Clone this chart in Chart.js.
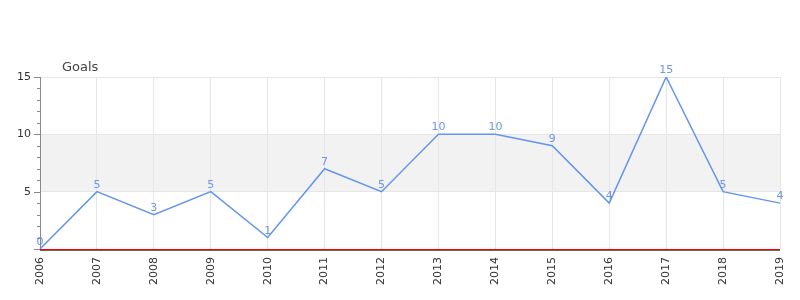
<!DOCTYPE html>
<html>
<head>
<meta charset="utf-8">
<script src="https://cdn.jsdelivr.net/npm/chart.js@4/dist/chart.umd.min.js"></script>
<style>
html,body{margin:0;padding:0;background:#fff;}
#wrap{width:800px;height:300px;position:relative;}
</style>
</head>
<body>
<div id="wrap"><canvas id="c" width="800" height="300"></canvas></div>
<script>
const years = ['2006','2007','2008','2009','2010','2011','2012','2013','2014','2015','2016','2017','2018','2019'];
const goals = [0,5,3,5,1,7,5,10,10,9,4,15,5,4];
const yTitle = 'Goals';
const bandRange = [5,10];

const FONT = "'DejaVu Sans', sans-serif";

const bandPlugin = {
  id: 'band',
  beforeDraw(chart) {
    const {ctx, chartArea, scales} = chart;
    const y1 = scales.y.getPixelForValue(bandRange[1]);
    const y0 = scales.y.getPixelForValue(bandRange[0]);
    ctx.save();
    ctx.fillStyle = '#f2f2f2';
    ctx.fillRect(chartArea.left, y1, chartArea.right - chartArea.left, y0 - y1);
    ctx.restore();
  }
};

const axisPlugin = {
  id: 'axisdeco',
  afterDraw(chart) {
    const {ctx, chartArea, scales} = chart;
    const y = scales.y;
    ctx.save();
    const zy = Math.round(y.getPixelForValue(0));
    ctx.fillStyle = '#ff0000';
    ctx.fillRect(chartArea.left, zy, chartArea.right - chartArea.left, 1);
    ctx.fillStyle = '#666';
    ctx.fillRect(chartArea.left, zy + 1, chartArea.right - chartArea.left, 1);
    ctx.strokeStyle = '#888';
    ctx.lineWidth = 1;
    for (let v = y.min; v <= y.max; v++) {
      const py = Math.round(y.getPixelForValue(v)) + 0.5;
      const len = v % 5 === 0 ? 6 : 3;
      ctx.beginPath();
      ctx.moveTo(chartArea.left - len, py);
      ctx.lineTo(chartArea.left, py);
      ctx.stroke();
    }
    ctx.fillStyle = '#444';
    ctx.font = '13px ' + FONT;
    ctx.textAlign = 'left';
    ctx.textBaseline = 'alphabetic';
    ctx.fillText(yTitle, chartArea.left + 22, chartArea.top - 6);
    ctx.restore();
  }
};

const labelPlugin = {
  id: 'vlabels',
  afterDatasetsDraw(chart) {
    const {ctx} = chart;
    const meta = chart.getDatasetMeta(0);
    ctx.save();
    ctx.fillStyle = '#6f96e6';
    ctx.font = '11px ' + FONT;
    ctx.textAlign = 'center';
    ctx.textBaseline = 'alphabetic';
    meta.data.forEach((pt, i) => {
      ctx.fillText(String(goals[i]), pt.x, pt.y - 4);
    });
    ctx.restore();
  }
};

new Chart(document.getElementById('c'), {
  type: 'line',
  data: {
    labels: years,
    datasets: [{
      data: goals,
      borderColor: '#6495ED',
      borderWidth: 1.5,
      pointRadius: 0,
      tension: 0,
      fill: false
    }]
  },
  options: {
    responsive: false,
    animation: false,
    layout: { padding: { top: 77, right: 20, left: 0, bottom: 0 } },
    plugins: { legend: { display: false }, tooltip: { enabled: false } },
    scales: {
      x: {
        offset: false,
        afterFit(s) { s.height = 51; s.paddingLeft = 0; s.paddingRight = 0; },
        grid: { color: '#e6e6e6', drawTicks: false },
        border: { display: false },
        ticks: { minRotation: 90, maxRotation: 90, autoSkip: false, padding: 8, color: '#333', font: { family: FONT, size: 11 } }
      },
      y: {
        min: 0, max: 15,
        afterFit(s) { s.width = 40; s.paddingTop = 0; s.paddingBottom = 0; },
        grid: {
          drawTicks: false,
          color: (c) => (c.tick && c.tick.value % 5 === 0 && c.tick.value > 0) ? '#e6e6e6' : 'rgba(0,0,0,0)'
        },
        border: { color: '#888', width: 1 },
        ticks: {
          stepSize: 1, autoSkip: false, padding: 9, color: '#333',
          font: { family: FONT, size: 11 },
          callback: (v) => (v % 5 === 0 && v > 0) ? String(v) : ''
        }
      }
    }
  },
  plugins: [bandPlugin, axisPlugin, labelPlugin]
});
</script>
</body>
</html>
